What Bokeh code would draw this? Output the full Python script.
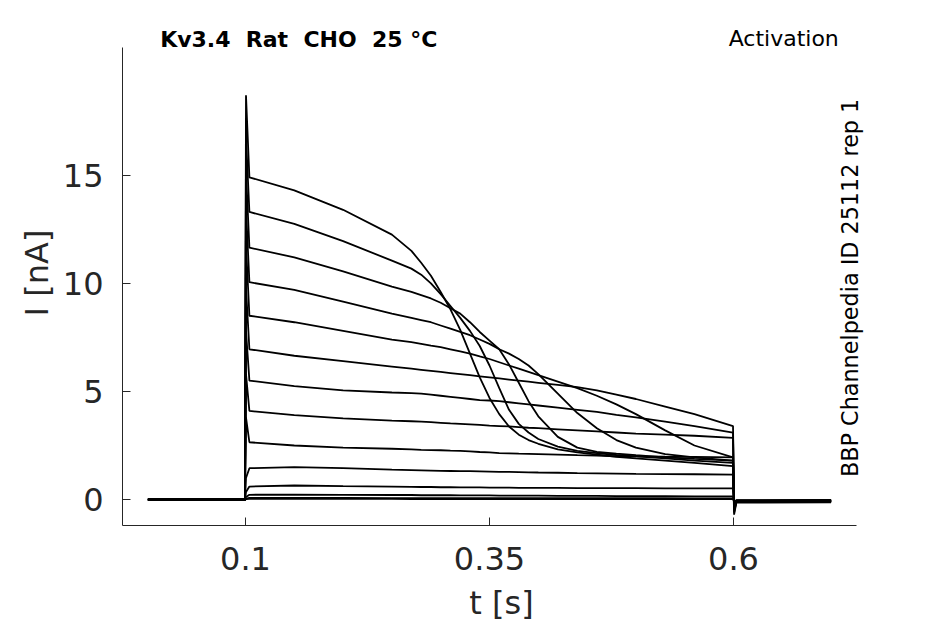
from bokeh.plotting import figure
from bokeh.models import Range1d, FixedTicker, CustomJSTickFormatter, Label
from bokeh.embed import file_html
from bokeh.resources import INLINE
import math

# time samples [s]
T = [0.0, 0.0995, 0.1005, 0.104, 0.15, 0.2, 0.25, 0.27, 0.28, 0.29, 0.3,
     0.31, 0.32, 0.33, 0.34, 0.35, 0.36, 0.37, 0.38, 0.39, 0.4,
     0.42, 0.44, 0.46, 0.48, 0.5, 0.53, 0.56, 0.5995, 0.6006, 0.603, 0.7]

# current sweeps [nA], one per voltage step
sweep_a = [0.02, 0.02, 18.7, 14.9, 14.3, 13.4, 12.25, 11.5, 10.95, 10.35, 9.6,
           8.8, 7.85, 6.75, 5.65, 4.7, 3.95, 3.38, 3.0, 2.75, 2.58,
           2.32, 2.18, 2.08, 1.98, 1.9, 1.8, 1.7, 1.55, -0.7, -0.12, -0.1]
sweep_b = [0.0, 0.0, 16.8, 13.3, 12.75, 11.95, 11.05, 10.68, 10.4, 10.0, 9.5,
           8.95, 8.4, 7.8, 7.1, 6.2, 5.15, 4.15, 3.5, 3.1, 2.8,
           2.45, 2.25, 2.15, 2.06, 2.0, 1.9, 1.8, 1.7, -0.6, -0.11, -0.09]
sweep_c = [-0.02, -0.02, 15.2, 11.65, 11.2, 10.55, 9.85, 9.6, 9.45, 9.3, 9.1,
           8.85, 8.6, 8.2, 7.75, 7.35, 6.95, 6.25, 5.4, 4.55, 3.85,
           2.9, 2.4, 2.2, 2.12, 2.05, 1.95, 1.88, 1.8, -0.5, -0.1, -0.08]
sweep_d = [0.01, 0.01, 13.5, 10.05, 9.7, 9.15, 8.6, 8.4, 8.3, 8.2, 8.05,
           7.9, 7.75, 7.6, 7.4, 7.2, 6.95, 6.75, 6.5, 6.2, 5.8,
           4.9, 4.0, 3.3, 2.75, 2.4, 2.1, 1.95, 1.8, -0.45, -0.1, -0.08]
sweep_e = [0.0, 0.0, 11.8, 8.5, 8.2, 7.8, 7.4, 7.28, 7.2, 7.12, 7.05,
           6.95, 6.85, 6.75, 6.62, 6.5, 6.35, 6.2, 6.05, 5.9, 5.75,
           5.45, 5.15, 4.8, 4.4, 3.95, 3.2, 2.5, 1.95, -0.4, -0.09, -0.07]
sweep_f = [0.03, 0.03, 9.8, 6.95, 6.65, 6.4, 6.15, 6.05, 6.0, 5.95, 5.9,
           5.85, 5.8, 5.75, 5.7, 5.65, 5.6, 5.55, 5.5, 5.45, 5.4,
           5.3, 5.2, 5.05, 4.85, 4.65, 4.3, 3.95, 3.4, -0.35, -0.09, -0.07]
sweep_g = [-0.01, -0.01, 7.8, 5.5, 5.25, 5.05, 4.95, 4.92, 4.9, 4.85, 4.8,
           4.75, 4.7, 4.65, 4.6, 4.58, 4.55, 4.5, 4.45, 4.4, 4.35,
           4.25, 4.15, 4.05, 3.92, 3.8, 3.6, 3.4, 3.1, -0.3, -0.08, -0.06]
sweep_h = [0.02, 0.02, 5.8, 4.1, 3.9, 3.75, 3.65, 3.62, 3.6, 3.58, 3.55,
           3.52, 3.5, 3.48, 3.45, 3.42, 3.4, 3.38, 3.35, 3.32, 3.3,
           3.25, 3.2, 3.15, 3.1, 3.05, 3.0, 2.95, 2.85, -0.25, -0.07, -0.05]
sweep_i = [0.0, 0.0, 3.8, 2.65, 2.5, 2.4, 2.35, 2.32, 2.3, 2.29, 2.28,
           2.26, 2.25, 2.23, 2.2, 2.18, 2.15, 2.14, 2.12, 2.11, 2.1,
           2.08, 2.05, 2.03, 2.0, 2.0, 1.98, 1.97, 1.95, -0.2, -0.06, -0.05]
sweep_j = [-0.02, -0.02, 1.0, 1.45, 1.5, 1.45, 1.38, 1.36, 1.35, 1.34, 1.33,
           1.32, 1.31, 1.31, 1.3, 1.29, 1.28, 1.28, 1.27, 1.26, 1.25,
           1.24, 1.22, 1.21, 1.2, 1.19, 1.18, 1.17, 1.15, -0.15, -0.05, -0.04]
sweep_k = [0.01, 0.01, 0.35, 0.6, 0.65, 0.62, 0.6, 0.59, 0.58, 0.58, 0.57,
           0.57, 0.56, 0.56, 0.56, 0.55, 0.55, 0.55, 0.54, 0.54, 0.54,
           0.54, 0.53, 0.53, 0.53, 0.53, 0.52, 0.52, 0.52, -0.12, -0.04, -0.03]
sweep_l = [0.0, 0.0, 0.12, 0.22, 0.23, 0.22, 0.21, 0.21, 0.2, 0.2, 0.2,
           0.2, 0.19, 0.19, 0.19, 0.19, 0.18, 0.18, 0.18, 0.18, 0.18,
           0.17, 0.17, 0.17, 0.16, 0.16, 0.16, 0.15, 0.15, -0.1, -0.03, -0.02]
sweep_m = [-0.03, -0.03, 0.04, 0.08, 0.08, 0.08, 0.07, 0.07, 0.07, 0.07, 0.07,
           0.07, 0.07, 0.07, 0.07, 0.07, 0.07, 0.07, 0.07, 0.07, 0.07,
           0.06, 0.06, 0.06, 0.06, 0.06, 0.06, 0.05, 0.05, -0.08, -0.12, -0.1]
sweep_n = [0.01, 0.01, 0.02, 0.03, 0.03, 0.03, 0.03, 0.02, 0.02, 0.02, 0.02,
           0.02, 0.02, 0.02, 0.02, 0.02, 0.02, 0.02, 0.02, 0.02, 0.02,
           0.02, 0.02, 0.02, 0.02, 0.02, 0.02, 0.02, 0.02, -0.06, -0.14, -0.13]

sweeps = [sweep_a, sweep_b, sweep_c, sweep_d, sweep_e, sweep_f, sweep_g,
          sweep_h, sweep_i, sweep_j, sweep_k, sweep_l, sweep_m, sweep_n]

x_ticks = [0.1, 0.35, 0.6]
y_ticks = [0, 5, 10, 15]

NBSP = "\u00a0"
title_text = f"Kv3.4{NBSP} Rat{NBSP} CHO{NBSP} 25 °C"
protocol_text = "Activation"
source_text = "BBP Channelpedia ID 25112 rep 1"
x_label = "t [s]"
y_label = "I [nA]"

FONT = "DejaVu Sans"
INK = "#262626"

p = figure(width=945, height=624,
           x_range=Range1d(-0.02602, 0.75061), y_range=Range1d(-1.2, 22.154),
           output_backend="svg", toolbar_location=None,
           min_border_left=122, min_border_right=65,
           min_border_top=20, min_border_bottom=98)
p.outline_line_color = None
p.grid.visible = False
p.background_fill_color = "white"
p.border_fill_color = "white"

for ys in sweeps:
    p.line(T, ys, line_color="black", line_width=1.8)

for ax in (p.xaxis[0], p.yaxis[0]):
    ax.axis_line_color = INK
    ax.axis_line_width = 1
    ax.major_tick_line_color = INK
    ax.major_tick_line_width = 1
    ax.major_tick_in = 8
    ax.major_tick_out = 0
    ax.minor_tick_line_color = None
    ax.major_label_text_font = FONT
    ax.major_label_text_font_size = "32px"
    ax.major_label_text_color = INK
    ax.axis_label_text_font = FONT
    ax.axis_label_text_font_size = "32px"
    ax.axis_label_text_font_style = "normal"
    ax.axis_label_text_color = INK

p.xaxis.bounds = (-0.02602, 0.72602)
p.xaxis.ticker = FixedTicker(ticks=x_ticks)
p.xaxis.formatter = CustomJSTickFormatter(code="return String(Math.round(tick*100)/100)")
p.xaxis.major_label_standoff = 21
p.xaxis.axis_label = x_label
p.xaxis.axis_label_standoff = 11

p.yaxis.bounds = (-1.2, 20.9)
p.yaxis.ticker = FixedTicker(ticks=y_ticks)
p.yaxis.major_label_standoff = 19
p.yaxis.axis_label = y_label
p.yaxis.axis_label_standoff = 4

p.add_layout(Label(x=0.1546, y=21.27, text=title_text, text_align="center",
                   text_baseline="alphabetic", text_font=FONT,
                   text_font_size="22px", text_font_style="bold",
                   text_color="black"))
p.add_layout(Label(x=0.7079, y=21.3, text=protocol_text, text_align="right",
                   text_baseline="alphabetic", text_font=FONT,
                   text_font_size="22px", text_color="black"))
p.add_layout(Label(x=0.7191, y=9.79, text=source_text, text_align="center",
                   text_baseline="alphabetic", text_font=FONT,
                   text_font_size="22.3px", text_color="black",
                   angle=math.pi / 2))

open("out.html", "w").write(file_html(p, INLINE))
